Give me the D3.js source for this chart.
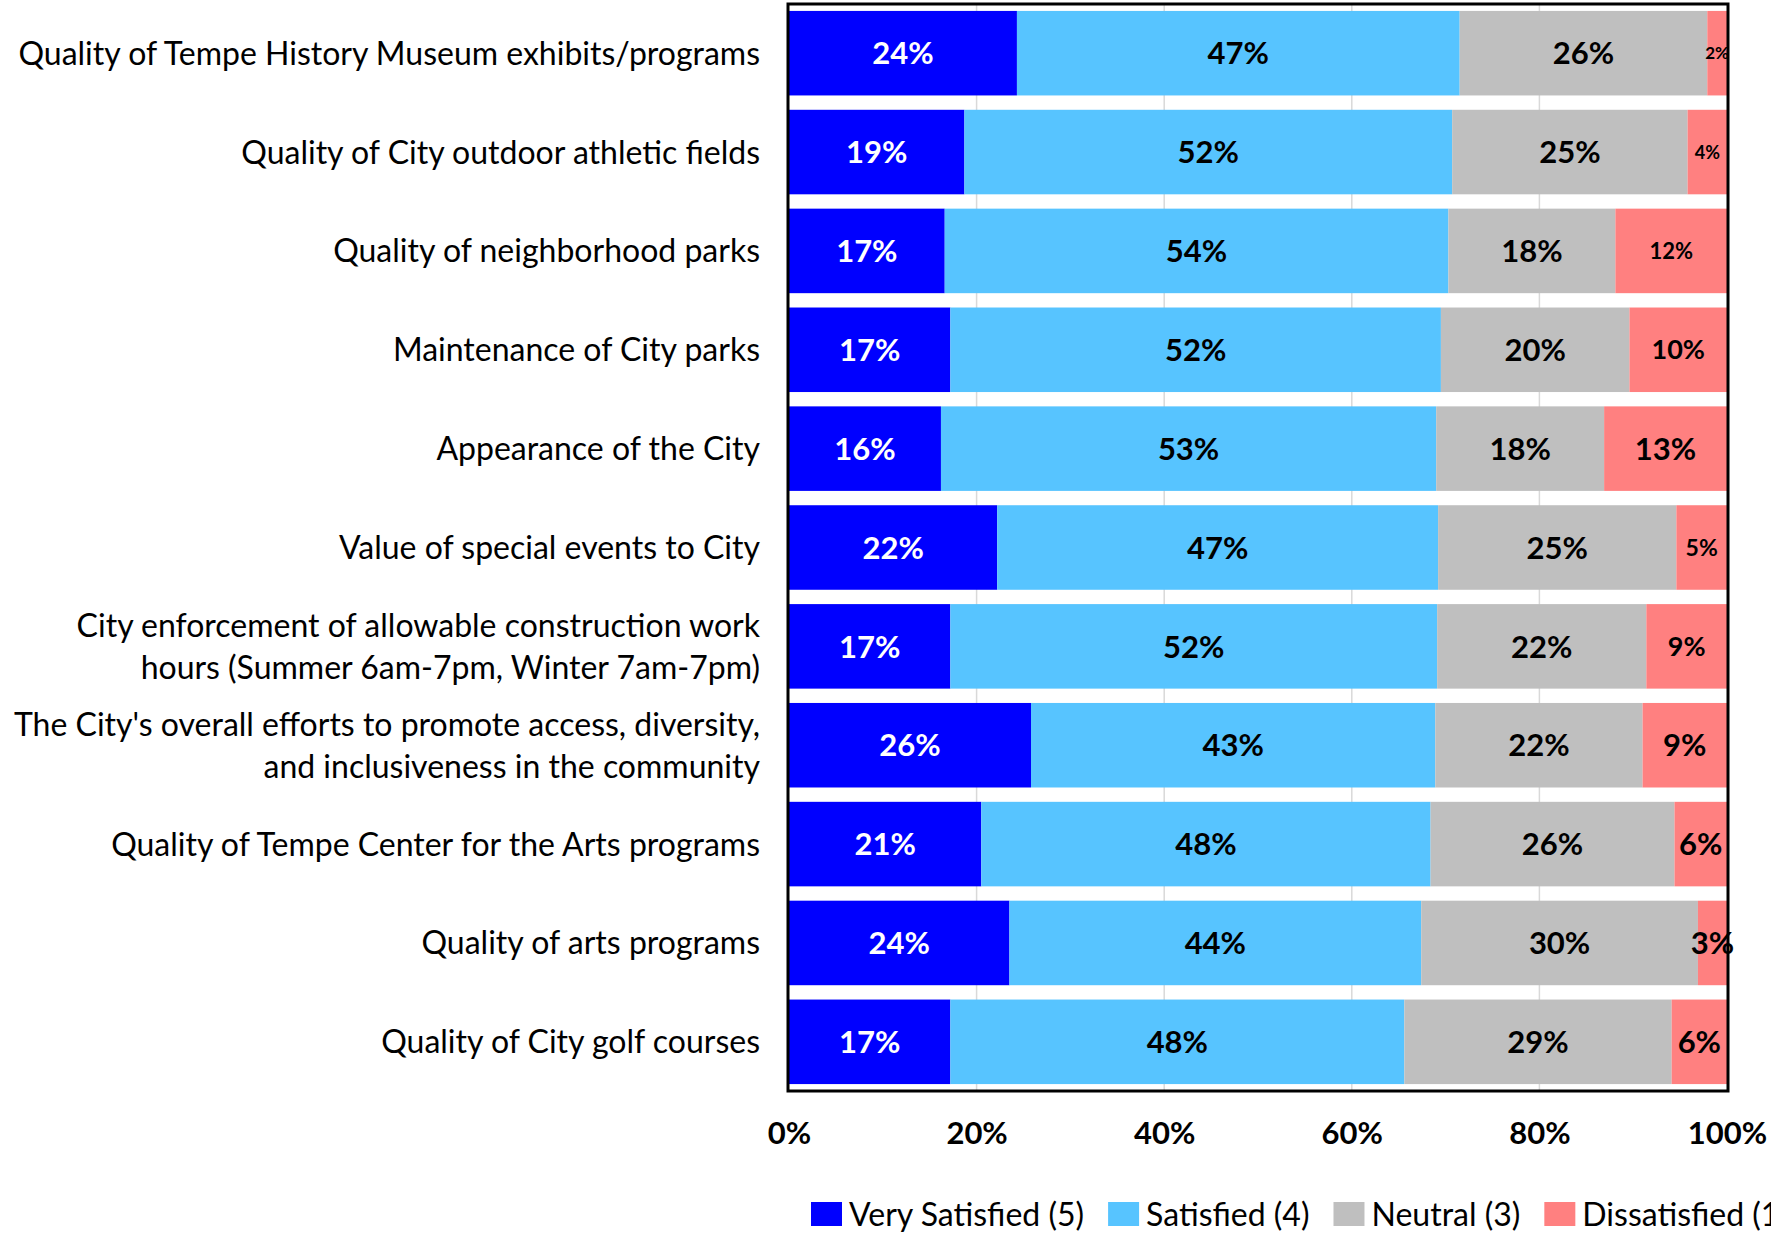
<!DOCTYPE html>
<html>
<head>
<meta charset="utf-8">
<script src="https://cdn.jsdelivr.net/npm/d3@7"></script>
<style>
  body { margin: 0; background: #fff; }
  svg { display: block; font-family: Lato, 'Open Sans', sans-serif; }
</style>
</head>
<body>
<script>
const width = 1771;
const height = 1236;

// data (percent of respondents)
const categories = [
  'Quality of Tempe History Museum exhibits/programs',
  'Quality of City outdoor athletic fields',
  'Quality of neighborhood parks',
  'Maintenance of City parks',
  'Appearance of the City',
  'Value of special events to City',
  'City enforcement of allowable construction work\nhours (Summer 6am-7pm, Winter 7am-7pm)',
  "The City's overall efforts to promote access, diversity,\nand inclusiveness in the community",
  'Quality of Tempe Center for the Arts programs',
  'Quality of arts programs',
  'Quality of City golf courses'
];
const verySatisfied = [24.3, 18.7, 16.6, 17.2, 16.2, 22.2, 17.2, 25.8, 20.5, 23.5, 17.2];
const satisfied     = [47.2, 52.0, 53.7, 52.3, 52.8, 47.0, 51.9, 43.1, 47.9, 43.9, 48.4];
const neutral       = [26.4, 25.1, 17.8, 20.1, 17.9, 25.4, 22.3, 22.1, 26.0, 29.5, 28.5];
const dissatisfied  = [2.1, 4.2, 11.9, 10.4, 13.1, 5.4, 8.6, 9.0, 5.6, 3.1, 5.9];
const seriesNames = ['Very Satisfied (5)', 'Satisfied (4)', 'Neutral (3)', 'Dissatisfied (1/2)'];
const tickValues = [0, 20, 40, 60, 80, 100];

const colors = ['#0000ff', '#57c4ff', '#bfbfbf', '#ff8080'];
const textColors = ['#fff', '#000', '#000', '#000'];
// some labels were shrunk in the original to fit their segment
const labelSize = {'0-3': 17, '1-3': 18, '2-3': 22, '3-3': 27, '5-3': 23, '6-3': 27};

const plot = {left: 788, right: 1728, top: 4, bottom: 1091};

const keys = ['vs', 's', 'n', 'd'];
const table = categories.map((c, i) => ({
  cat: c, vs: verySatisfied[i], s: satisfied[i], n: neutral[i], d: dissatisfied[i]
}));
const stacked = d3.stack().keys(keys)(table);

const svg = d3.select('body').append('svg')
  .attr('width', width).attr('height', height);

const x = d3.scaleLinear().domain([0, 100]).range([plot.left + 1, plot.right - 1]);
const y = d3.scaleBand().domain(categories).range([plot.top, plot.bottom])
  .paddingInner(0.145).paddingOuter(0.07);

// gridlines
svg.append('g').selectAll('line')
  .data(tickValues.slice(1, -1))
  .enter().append('line')
  .attr('x1', d => x(d)).attr('x2', d => x(d))
  .attr('y1', plot.top).attr('y2', plot.bottom)
  .attr('stroke', '#d9d9d9').attr('stroke-width', 1.5);

// bars
const layers = svg.append('g').selectAll('g')
  .data(stacked)
  .enter().append('g')
  .attr('fill', (d, i) => colors[i]);

layers.selectAll('rect')
  .data(d => d)
  .enter().append('rect')
  .attr('x', d => x(d[0]))
  .attr('y', d => y(d.data.cat))
  .attr('width', d => x(d[1]) - x(d[0]))
  .attr('height', y.bandwidth());

// value labels
stacked.forEach((layer, si) => {
  svg.append('g').selectAll('text')
    .data(layer)
    .enter().append('text')
    .attr('x', d => (x(d[0]) + x(d[1])) / 2)
    .attr('y', d => y(d.data.cat) + y.bandwidth() / 2)
    .attr('dy', '0.36em')
    .attr('text-anchor', 'middle')
    .attr('font-weight', 'bold')
    .attr('font-size', (d, i) => (labelSize[i + '-' + si] || 31) + 'px')
    .attr('fill', textColors[si])
    .text(d => Math.round(d[1] - d[0]) + '%');
});

// plot border
svg.append('rect')
  .attr('x', plot.left).attr('y', plot.top)
  .attr('width', plot.right - plot.left).attr('height', plot.bottom - plot.top)
  .attr('fill', 'none').attr('stroke', '#000').attr('stroke-width', 3);

// category labels
const catLabels = svg.append('g').selectAll('text')
  .data(categories)
  .enter().append('text')
  .attr('text-anchor', 'end')
  .attr('font-size', '32px')
  .attr('fill', '#000')
  .attr('y', d => y(d) + y.bandwidth() / 2);

catLabels.each(function(d) {
  const lines = d.split('\n');
  const t = d3.select(this);
  lines.forEach((line, i) => {
    t.append('tspan')
      .attr('x', 760)
      .attr('dy', i === 0 ? (0.36 - (lines.length - 1) * 0.66) + 'em' : '1.32em')
      .text(line);
  });
});

// x axis
const xAxis = d3.axisBottom(x).tickValues(tickValues).tickSize(0).tickFormat(d => d + '%');
const gx = svg.append('g')
  .attr('transform', `translate(0,${plot.bottom})`)
  .call(xAxis);
gx.select('.domain').remove();
gx.selectAll('text')
  .attr('y', 42).attr('dy', '0.36em')
  .style('font-family', "Lato, 'Open Sans', sans-serif")
  .style('font-size', '31px')
  .style('font-weight', 'bold')
  .attr('fill', '#000');

// legend
const legend = svg.append('g').attr('transform', 'translate(811,1214)');
let lx = 0;
seriesNames.forEach((name, i) => {
  legend.append('rect')
    .attr('x', lx).attr('y', -12)
    .attr('width', 31).attr('height', 24)
    .attr('fill', colors[i]);
  const t = legend.append('text')
    .attr('x', lx + 38).attr('y', 0).attr('dy', '0.36em')
    .attr('font-size', '32px')
    .text(name);
  lx += 38 + t.node().getComputedTextLength() + 24;
});
</script>
</body>
</html>
